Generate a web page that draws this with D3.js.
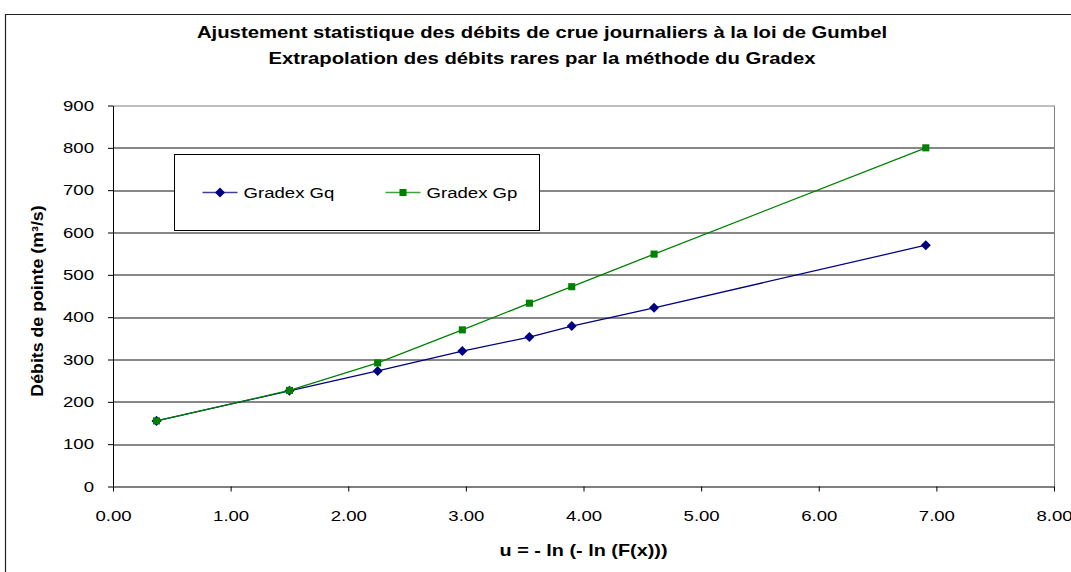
<!DOCTYPE html>
<html>
<head>
<meta charset="utf-8">
<script src="https://cdn.jsdelivr.net/npm/d3@7"></script>
<style>
  body { margin: 0; background: #fff; }
  text { font-family: "Liberation Sans", Arial, sans-serif; }
</style>
</head>
<body>
<div id="chart"></div>
<script>
// donnees
var uValues = [0.37, 1.50, 2.25, 2.97, 3.54, 3.90, 4.60, 6.91];
var gq = [155, 226, 273, 320, 353, 379, 422, 570];
var gp = [155, 227, 292, 370, 433, 472, 549, 800];
var seriesNames = ["Gradex Gq", "Gradex Gp"];
var xTicks = [0, 1, 2, 3, 4, 5, 6, 7, 8];
var yTicks = [0, 100, 200, 300, 400, 500, 600, 700, 800, 900];
var titres = ["Ajustement statistique des débits de crue journaliers à la loi de Gumbel",
  "Extrapolation des débits rares par la méthode du Gradex"];

var width = 1071, height = 572;
var margin = { left: 113, right: 17, top: 105.5, bottom: 85.5 };
var pw = width - margin.left - margin.right,
  ph = height - margin.top - margin.bottom;
// le texte de l'original est etire horizontalement
var etire = 1.24;

var svg = d3.select("#chart").append("svg")
  .attr("width", width).attr("height", height);

// cadre du graphique
svg.append("path")
  .attr("d", "M5.5," + (height + 2) + "V14.5H" + (width + 2))
  .attr("fill", "none").attr("stroke", "#222").attr("stroke-width", 1.2);

var x = d3.scaleLinear().domain([0, 8]).range([0, pw]);
var y = d3.scaleLinear().domain([0, 900]).range([ph, 0]);

var g = svg.append("g").attr("transform", "translate(" + margin.left + "," + margin.top + ")");

// titre
svg.selectAll(".titre").data(titres).enter().append("text")
  .attr("class", "titre")
  .attr("transform", function (d, i) { return "translate(542," + (38 + i * 26) + ") scale(1.27,1)"; })
  .attr("text-anchor", "middle")
  .attr("font-size", 16).attr("font-weight", "bold")
  .text(function (d) { return d; });

// grille
g.selectAll(".grid").data(yTicks.slice(1)).enter().append("line")
  .attr("class", "grid")
  .attr("x1", 0).attr("x2", pw)
  .attr("y1", function (d) { return Math.round(y(d)) + 0.5; })
  .attr("y2", function (d) { return Math.round(y(d)) + 0.5; })
  .attr("stroke", function (d) { return d === 900 ? "#808080" : "#111"; })
  .attr("stroke-width", 1);

// bord droit
g.append("line")
  .attr("x1", pw + 0.5).attr("x2", pw + 0.5).attr("y1", 0).attr("y2", ph)
  .attr("stroke", "#808080");

// axes
var xAxis = g.append("g").attr("transform", "translate(0," + ph + ")")
  .call(d3.axisBottom(x).tickValues(xTicks).tickSize(5).tickSizeOuter(0)
    .tickFormat(d3.format(".2f")));
var yAxis = g.append("g")
  .call(d3.axisLeft(y).tickValues(yTicks).tickSize(5).tickSizeOuter(0));

[xAxis, yAxis].forEach(function (a) {
  a.selectAll("path, line").attr("stroke", "#000");
  a.selectAll("text").attr("font-size", 15).attr("fill", "#000")
    .attr("font-family", "Liberation Sans, Arial, sans-serif")
    .attr("transform", "scale(" + etire + ",1)");
});
xAxis.selectAll("text").attr("y", 8).attr("dy", "1.75em");
yAxis.selectAll("text").attr("x", -19 / etire);

// titres des axes
svg.append("text")
  .attr("transform", "translate(" + (margin.left + pw / 2) + ",556) scale(" + etire + ",1)")
  .attr("text-anchor", "middle").attr("font-size", 16).attr("font-weight", "bold")
  .text("u = - ln (- ln (F(x)))");
svg.append("text")
  .attr("transform", "translate(43,301) rotate(-90) scale(1.11,1)")
  .attr("text-anchor", "middle").attr("font-size", 16).attr("font-weight", "bold")
  .text("Débits de pointe (m³/s)");

// series
var series = [
  { name: seriesNames[0], values: gq, color: "#000080", symbol: d3.symbolDiamond2, size: 64 },
  { name: seriesNames[1], values: gp, color: "#008000", symbol: d3.symbolSquare2, size: 64 }
];

var line = d3.line()
  .x(function (d, i) { return x(uValues[i]); })
  .y(function (d) { return y(d); });

series.forEach(function (s) {
  g.append("path").datum(s.values)
    .attr("d", line).attr("fill", "none")
    .attr("stroke", s.color).attr("stroke-width", 1.25);
  g.selectAll(null).data(s.values).enter().append("path")
    .attr("transform", function (d, i) { return "translate(" + x(uValues[i]) + "," + y(d) + ")"; })
    .attr("d", d3.symbol().type(s.symbol).size(s.size))
    .attr("fill", s.color).attr("stroke", "none");
});

// legende
var leg = svg.append("g").attr("transform", "translate(174.5,154.5)");
leg.append("rect").attr("width", 365).attr("height", 76)
  .attr("fill", "#fff").attr("stroke", "#000");
series.forEach(function (s, i) {
  var lx = 28 + i * 183;
  leg.append("line").attr("x1", lx).attr("x2", lx + 35).attr("y1", 38).attr("y2", 38)
    .attr("stroke", s.color).attr("stroke-width", 1.4).attr("stroke-opacity", 0.75);
  leg.append("path").attr("transform", "translate(" + (lx + 17.5) + ",38)")
    .attr("d", d3.symbol().type(s.symbol).size(s.size)).attr("fill", s.color);
  leg.append("text").attr("transform", "translate(" + (lx + 41) + ",43.5) scale(" + etire + ",1)")
    .attr("font-size", 15).text(s.name);
});
</script>
</body>
</html>
